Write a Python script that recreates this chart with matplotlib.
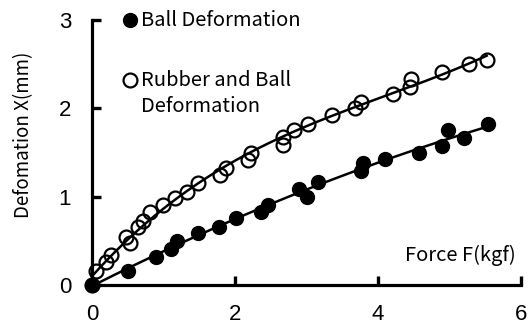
import numpy as np
import matplotlib
matplotlib.use("Agg")
import matplotlib.pyplot as plt

# Data
ball_force = [0.0, 0.50, 0.90, 1.10, 1.19, 1.48, 1.78, 2.01, 2.36, 2.46, 2.90, 3.01,
              3.16, 3.76, 3.79, 4.10, 4.57, 4.90, 4.98, 5.20, 5.54]
ball_def = [0.0, 0.16, 0.32, 0.41, 0.50, 0.59, 0.66, 0.76, 0.83, 0.91, 1.09, 1.00,
            1.17, 1.29, 1.38, 1.43, 1.49, 1.57, 1.76, 1.66, 1.82]

rb_force = [0.0, 0.06, 0.20, 0.27, 0.48, 0.53, 0.64, 0.71, 0.81, 0.99, 1.16, 1.33,
            1.48, 1.79, 1.87, 2.18, 2.22, 2.67, 2.67, 2.83, 3.02, 3.36, 3.68, 3.76,
            4.21, 4.45, 4.46, 4.90, 5.27, 5.52]
rb_def = [0.0, 0.16, 0.26, 0.34, 0.54, 0.48, 0.66, 0.72, 0.83, 0.91, 0.99, 1.05,
          1.16, 1.25, 1.33, 1.42, 1.49, 1.59, 1.68, 1.76, 1.82, 1.93, 2.00, 2.07,
          2.16, 2.24, 2.33, 2.41, 2.50, 2.55]

x_ticks = [0, 2, 4, 6]
y_ticks = [0, 1, 2, 3]
legend_ball = "Ball Deformation"
legend_rb = ["Rubber and Ball", "Deformation"]
x_label = "Force F(kgf)"
y_label = "Defomation X(mm)"

txt_font = ["Noto Sans CJK JP", "DejaVu Sans"]
num_font = ["Liberation Sans", "DejaVu Sans"]

fig = plt.figure(figsize=(5.31, 3.31), dpi=100)
ax = fig.add_axes([92/531, 46/331, 429/531, 265/331])

# trend lines
def trend(xs, ys, deg=3):
    c = np.polyfit(xs, ys, deg)
    xx = np.linspace(0, max(xs), 200)
    return xx, np.polyval(c, xx)

xx, yy = trend(ball_force, ball_def, 2)
ax.plot(xx, yy, color="black", lw=1.8, zorder=2, clip_on=False)
xx, yy = trend(rb_force, rb_def, 3)
ax.plot(xx, yy, color="black", lw=1.8, zorder=2, clip_on=False)

ax.plot(ball_force, ball_def, "o", ms=10, mfc="black", mec="black", zorder=3, clip_on=False)
ax.plot(rb_force, rb_def, "o", ms=10, mfc="none", mec="black", mew=1.6, zorder=3, clip_on=False)

ax.set_xlim(0, 6)
ax.set_ylim(0, 3)
ax.set_xticks(x_ticks)
ax.set_yticks(y_ticks)
ax.set_xticklabels([str(t) for t in x_ticks], family=num_font, fontsize=16)
ax.set_yticklabels([str(t) for t in y_ticks], family=num_font, fontsize=16)
ax.tick_params(direction="in", length=6.5, width=2.4)
ax.tick_params(axis="x", pad=14)
ax.tick_params(axis="y", pad=15)
for s in ["top", "right"]:
    ax.spines[s].set_visible(False)
for s in ["left", "bottom"]:
    ax.spines[s].set_linewidth(2.3)

# legend drawn manually
fig.add_artist(plt.Line2D([130/531], [1 - 20/331], marker="o", ms=10, mfc="black",
                          mec="black", transform=fig.transFigure))
fig.add_artist(plt.Line2D([130/531], [1 - 80/331], marker="o", ms=10, mfc="none",
                          mec="black", mew=1.6, transform=fig.transFigure))
fig.text(141/531, 1 - 20/331, legend_ball, family=txt_font, fontsize=14.5,
         ha="left", va="center")
fig.text(141/531, 1 - 80/331, legend_rb[0], family=txt_font, fontsize=14.5,
         ha="left", va="center")
fig.text(141/531, 1 - 107/331, legend_rb[1], family=txt_font, fontsize=14.5,
         ha="left", va="center")

fig.text(516/531, 1 - 255/331, x_label, family=txt_font, fontsize=14.5,
         ha="right", va="center")
fig.text(24/531, 1 - 135/331, y_label, family=txt_font, fontsize=13.5,
         ha="center", va="center", rotation=90)

fig.savefig("out.png", dpi=100)
